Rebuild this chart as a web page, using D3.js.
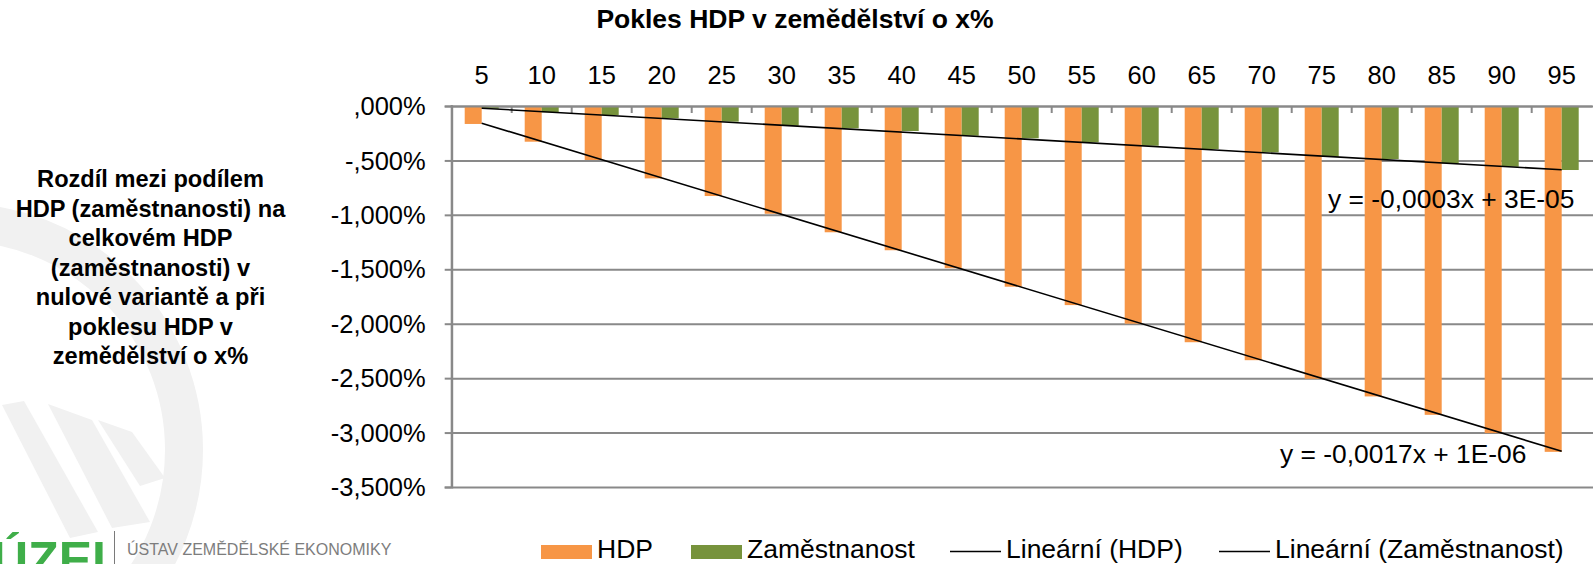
<!DOCTYPE html>
<html lang="cs">
<head>
<meta charset="UTF-8">
<title>Pokles HDP v zemědělství o x%</title>
<style>
  html, body { margin: 0; padding: 0; background: #fff; }
  svg { display: block; font-family: "Liberation Sans", Arial, sans-serif; }
</style>
</head>
<body>
<div id="chart"></div>
<script src="https://d3js.org/d3.v7.min.js"></script>
<script>
// data (values in %)
const categories = ["5", "10", "15", "20", "25", "30", "35", "40", "45", "50",
                    "55", "60", "65", "70", "75", "80", "85", "90", "95"];
const hdpValues = [-0.165, -0.328, -0.496, -0.665, -0.827, -0.990, -1.160, -1.325, -1.490, -1.660,
                   -1.829, -2.000, -2.170, -2.335, -2.506, -2.668, -2.837, -3.005, -3.177];
const zamValues = [-0.025, -0.058, -0.083, -0.113, -0.144, -0.181, -0.205, -0.230, -0.273, -0.297,
                   -0.334, -0.365, -0.395, -0.426, -0.466, -0.487, -0.527, -0.558, -0.588];
const yTicks = [0, -0.5, -1, -1.5, -2, -2.5, -3, -3.5];
const seriesNames = ["HDP", "Zaměstnanost"];
const trendNames = ["Lineární (HDP)", "Lineární (Zaměstnanost)"];
const trendLabels = ["y = -0,0017x + 1E-06", "y = -0,0003x + 3E-05"];
const chartTitle = "Pokles HDP v zemědělství o x%";
const yTitle = ["Rozdíl mezi podílem", "HDP (zaměstnanosti) na", "celkovém HDP",
                "(zaměstnanosti) v", "nulové variantě a při", "poklesu HDP v", "zemědělství o x%"];

const W = 1593, H = 564;
const colors = {HDP: "#F79646", "Zaměstnanost": "#77933C"};
const gridColor = "#898989";

const svg = d3.select("#chart").append("svg")
    .attr("width", W).attr("height", H);

// faint watermark of the logo
const wm = svg.append("g").attr("fill", "none").attr("stroke", "#f1f1f1");
wm.append("circle").attr("cx", -44).attr("cy", 450).attr("r", 228).attr("stroke-width", 38);
const rays = [
  [[2, 405], [24, 401], [98, 532], [70, 538]],
  [[48, 404], [92, 420], [150, 522], [112, 528]],
  [[98, 420], [132, 432], [165, 478], [140, 486]]
];
svg.append("g").selectAll("polygon").data(rays).join("polygon")
    .attr("points", d => d.map(p => p.join(",")).join(" "))
    .attr("fill", "#f1f1f1");

// scales
const x = d3.scaleBand().domain(categories)
    .range([451.7, 1591.7]).paddingInner(0.4333).paddingOuter(0.2167);
const xs = d3.scaleBand().domain(seriesNames).range([0, x.bandwidth()]);
const y = d3.scaleLinear().domain([-3.5, 0]).range([487, 106]);

const fmt = v => {
  let s = Math.abs(v).toFixed(3).replace(".", ",");
  if (s.startsWith("0,")) s = s.slice(1);
  return (v < 0 ? "-" : "") + s + "%";
};

// gridlines + y axis
const yAxis = d3.axisLeft(y).tickValues(yTicks).tickSize(7).tickFormat(fmt).tickPadding(19);
const gy = svg.append("g").attr("transform", "translate(451.7,0)").call(yAxis);
gy.select(".domain").attr("stroke", gridColor).attr("stroke-width", 2);
gy.selectAll(".tick line").attr("stroke", gridColor).attr("stroke-width", 2);
gy.selectAll(".tick text").attr("font-size", 25.5).attr("fill", "#000")
    .attr("font-family", "Liberation Sans, Arial, sans-serif").attr("dy", "0.34em");
gy.selectAll(".tick").append("line")
    .attr("x1", 0).attr("x2", W - 451.7)
    .attr("stroke", gridColor).attr("stroke-width", 2);

// bars
const rows = categories.map((c, i) => ({c, HDP: hdpValues[i], "Zaměstnanost": zamValues[i]}));
const groups = svg.append("g").selectAll("g").data(rows).join("g")
    .attr("transform", d => `translate(${x(d.c)},0)`);
groups.selectAll("rect").data(d => seriesNames.map(k => ({k, v: d[k]}))).join("rect")
    .attr("x", d => xs(d.k)).attr("width", xs.bandwidth())
    .attr("y", y(0)).attr("height", d => y(d.v) - y(0))
    .attr("fill", d => colors[d.k]);

// category axis on top (at zero)
const step = x.step();
const xAxis = d3.axisTop(x).tickSize(0).tickPadding(22);
const gx = svg.append("g").attr("transform", `translate(0,${y(0)})`).call(xAxis);
gx.select(".domain").attr("stroke", gridColor).attr("stroke-width", 2);
gx.selectAll(".tick text").attr("font-size", 25.5).attr("fill", "#000")
    .attr("font-family", "Liberation Sans, Arial, sans-serif");
svg.append("g").selectAll("line").data(categories.slice(1)).join("line")
    .attr("x1", d => x(d) - x.paddingInner() * step / 2)
    .attr("x2", d => x(d) - x.paddingInner() * step / 2)
    .attr("y1", y(0)).attr("y2", y(0) + 7)
    .attr("stroke", gridColor).attr("stroke-width", 2);
svg.append("line").attr("x1", 451.7).attr("x2", 451.7).attr("y1", y(0) - 1).attr("y2", y(-3.5) + 1)
    .attr("stroke", gridColor).attr("stroke-width", 2);

// linear trend lines (least squares over category index)
function fit(vals) {
  const xsI = vals.map((_, i) => i + 1);
  const mx = d3.mean(xsI), my = d3.mean(vals);
  const b = d3.sum(xsI, (xi, i) => (xi - mx) * (vals[i] - my)) / d3.sum(xsI, xi => (xi - mx) ** 2);
  return [b, my - b * mx];
}
const cx = c => x(c) + x.bandwidth() / 2;
[hdpValues, zamValues].forEach(vals => {
  const [b, a] = fit(vals);
  const first = categories[0], last = categories[categories.length - 1];
  svg.append("line")
      .attr("x1", cx(first)).attr("y1", y(a + b * 1))
      .attr("x2", cx(last)).attr("y2", y(a + b * categories.length))
      .attr("stroke", "#000").attr("stroke-width", 1.6);
});
svg.append("text").attr("x", 1280).attr("y", 463).attr("font-size", 26.4).text(trendLabels[0]);
svg.append("text").attr("x", 1328).attr("y", 208).attr("font-size", 26.4).text(trendLabels[1]);

// titles
svg.append("text").attr("x", 795).attr("y", 28).attr("text-anchor", "middle")
    .attr("font-size", 26.5).attr("font-weight", "bold").text(chartTitle);
svg.append("text").attr("text-anchor", "middle").attr("font-size", 23.6).attr("font-weight", "bold")
  .selectAll("tspan").data(yTitle).join("tspan")
    .attr("x", 150.5).attr("y", (d, i) => 187 + i * 29.5).text(d => d);

// legend
const legend = svg.append("g").attr("font-size", 26.5);
const items = [
  {name: seriesNames[0], type: "rect", color: colors.HDP, x: 541},
  {name: seriesNames[1], type: "rect", color: colors["Zaměstnanost"], x: 691},
  {name: trendNames[0], type: "line", color: "#000", x: 950},
  {name: trendNames[1], type: "line", color: "#000", x: 1219}
];
items.forEach(it => {
  if (it.type === "rect") {
    legend.append("rect").attr("x", it.x).attr("y", 545).attr("width", 51).attr("height", 14).attr("fill", it.color);
  } else {
    legend.append("line").attr("x1", it.x).attr("x2", it.x + 51).attr("y1", 551.5).attr("y2", 551.5)
        .attr("stroke", it.color).attr("stroke-width", 1.6);
  }
  legend.append("text").attr("x", it.x + 56).attr("y", 558).text(it.name);
});

// logo bottom-left
svg.append("text").attr("x", -8).attr("y", 577).attr("font-size", 50).attr("font-weight", "bold")
    .attr("fill", "#3fae49").text("ÚZEI");
svg.append("line").attr("x1", 114.5).attr("x2", 114.5).attr("y1", 531).attr("y2", 564)
    .attr("stroke", "#7a7a7a").attr("stroke-width", 1);
svg.append("text").attr("x", 127).attr("y", 555).attr("font-size", 16).attr("fill", "#7d7d7d")
    .text("ÚSTAV ZEMĚDĚLSKÉ EKONOMIKY");
</script>
</body>
</html>
